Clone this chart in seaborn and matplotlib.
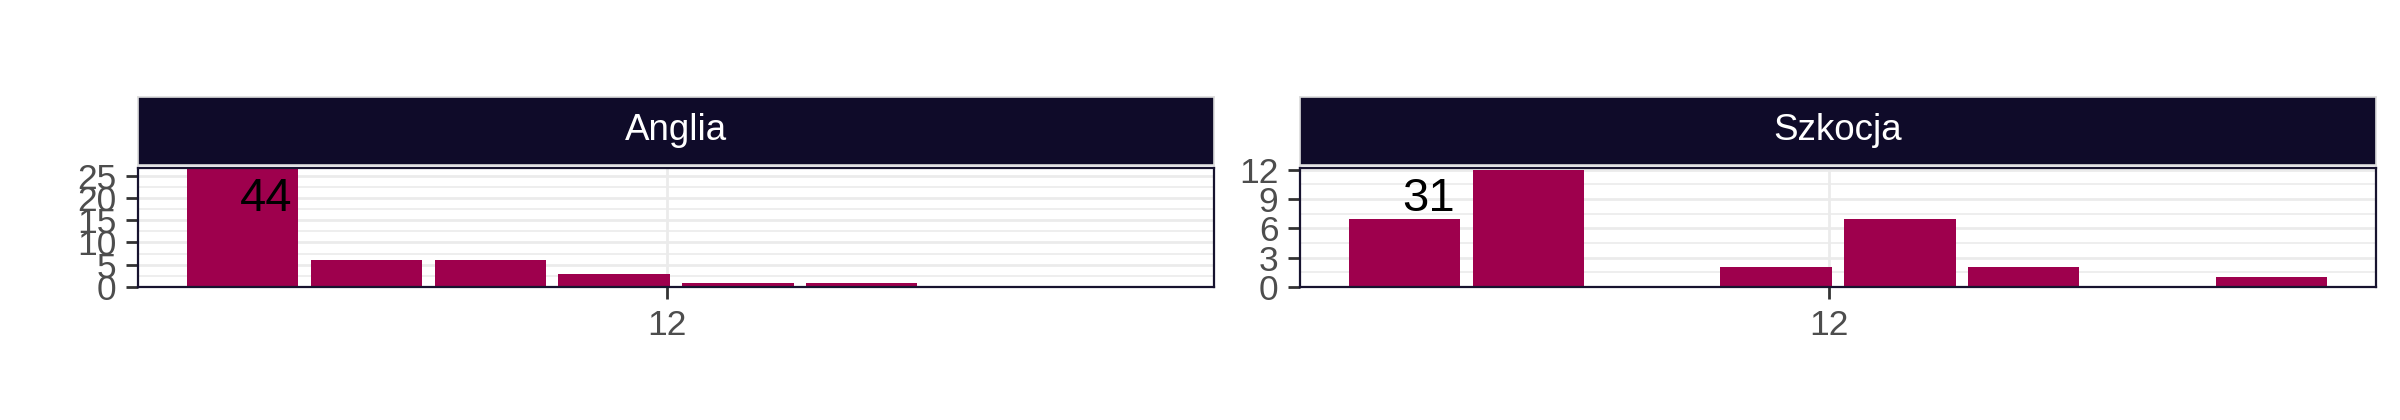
import matplotlib
import matplotlib.pyplot as plt
import numpy as np
import pandas as pd
import seaborn as sns
from matplotlib.ticker import MultipleLocator

matplotlib.use('agg')

# data
regions = ['Anglia', 'Szkocja']
slots = [1, 2, 3, 4, 5, 6, 7, 8]
anglia_counts = [27, 6, 6, 3, 1, 1, 0, 0]
szkocja_counts = [7, 12, 0, 2, 7, 2, 0, 1]
y_tops = [26.7, 12.17]
y_steps = [5, 3]
x_tick_pos = [4.43]
x_tick_labels = ['12']

bar_color = '#9e004d'
strip_color = '#0f0b29'
frame_color = '#17132f'

sns.set_theme(style='white')
plt.rcParams['font.family'] = ['Liberation Sans', 'DejaVu Sans']

fig = plt.figure(figsize=(24, 4.2), dpi=100)

# panel boxes in pixels (left, right), shared vertical extent
panel_px = [(138, 1214), (1300, 2376)]
W, H = 2400, 420
panel_top, panel_bottom = 168, 287
strip_top, strip_bottom = 97, 165

for region, counts, top, step, (x0, x1) in zip(
        regions, [anglia_counts, szkocja_counts], y_tops, y_steps, panel_px):
    df = pd.DataFrame({'slot': slots, 'count': counts})
    df = df[df['count'] > 0]

    ax = fig.add_axes([x0 / W, 1 - panel_bottom / H, (x1 - x0) / W, (panel_bottom - panel_top) / H])
    ax.set_axisbelow(True)
    sns.barplot(data=df, x='slot', y='count', native_scale=True, width=0.9,
                color=bar_color, saturation=1, linewidth=0, errorbar=None, ax=ax)

    ax.set_xlim(0.155, 8.845)
    ax.set_ylim(0, top)
    ax.set_xticks(x_tick_pos)
    ax.set_xticklabels(x_tick_labels)
    ax.set_yticks(np.arange(0, top + 0.01, step))
    ax.yaxis.set_minor_locator(MultipleLocator(step / 2))
    ax.set_xlabel('')
    ax.set_ylabel('')

    ax.grid(True, which='major', color='#ebebeb', linewidth=2.0)
    ax.grid(True, which='minor', axis='y', color='#ebebeb', linewidth=1.2)
    ax.tick_params(axis='both', which='major', labelsize=25.5, labelcolor='#4d4d4d',
                   color='#333333', length=8.5, width=2, pad=7, left=True, bottom=True)
    ax.tick_params(axis='both', which='minor', length=0)
    for side in ax.spines.values():
        side.set_color(frame_color)
        side.set_linewidth(1.6)

    # total count label
    ax.text(1.19, 0.74, str(sum(counts)), transform=ax.get_xaxis_transform(),
            ha='center', va='center', fontsize=34, color='black')

    # facet strip
    sax = fig.add_axes([x0 / W, 1 - strip_bottom / H, (x1 - x0) / W, (strip_bottom - strip_top) / H])
    sax.set_facecolor(strip_color)
    sax.set_xticks([])
    sax.set_yticks([])
    for side in sax.spines.values():
        side.set_color('#dcdcdc')
        side.set_linewidth(1.2)
    sax.text(0.5, 0.5, region, ha='center', va='center', fontsize=26.5, color='white',
             transform=sax.transAxes)

fig.savefig('out.png', dpi=100)
